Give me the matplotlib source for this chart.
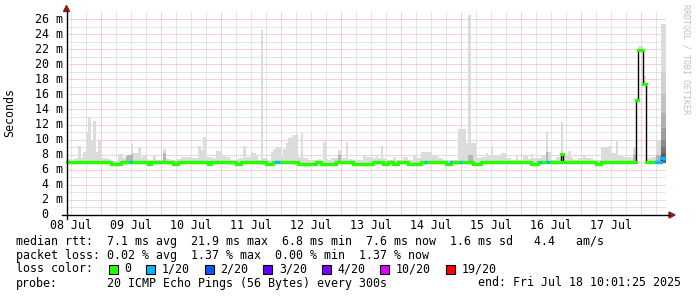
import numpy as np
import matplotlib
matplotlib.use('Agg')
import matplotlib.pyplot as plt
from matplotlib.patches import Polygon, Rectangle
from matplotlib.lines import Line2D
from matplotlib.transforms import blended_transform_factory

plt.rcParams['font.family'] = 'DejaVu Sans Mono'
plt.rcParams['font.size'] = 8.4

# hourly bins, hours counted from 08 Jul 00:00 (first bin 08 Jul 10:00)
first_hour = 10
last_hour = 250

# top of the smoke (slowest ping) in ms, one row per day
ping_max = [
    7.5, 7.4, 7.2, 7.4, 7.5, 9.1, 7.5, 8.4, 11.0, 13.0, 10.0, 12.5, 8.4, 9.8,  # 08 Jul
    7.5, 7.5, 7.5, 7.4, 7.2, 7.2, 7.2, 8.1, 8.1, 7.6, 7.7, 7.8, 9.4, 8.2, 8.2, 9.0, 7.7, 7.8, 7.5, 7.3, 7.3, 7.8, 7.3, 7.3,  # 09 Jul
    7.3, 8.7, 7.5, 7.4, 7.3, 7.3, 7.4, 7.4, 7.7, 7.7, 7.7, 7.7, 7.6, 7.6, 7.5, 9.15, 8.6, 10.4, 7.7, 7.7, 7.6, 7.6, 8.5, 8.5,  # 10 Jul
    8.0, 8.0, 7.7, 7.7, 7.3, 7.3, 7.3, 7.5, 7.5, 9.15, 7.7, 7.7, 8.4, 8.2, 7.9, 7.3, 24.6, 7.6, 7.5, 7.3, 8.4, 8.8, 9.0, 9.0,  # 11 Jul
    8.0, 8.75, 9.5, 10.2, 10.4, 10.6, 10.7, 7.7, 10.9, 7.5, 7.5, 7.3, 7.3, 7.3, 7.3, 7.4, 7.3, 9.7, 7.4, 7.3, 7.5, 7.5, 7.5, 8.6,  # 12 Jul
    7.5, 7.5, 9.7, 7.4, 7.4, 7.3, 7.3, 7.3, 7.3, 8.0, 7.7, 7.7, 7.7, 7.5, 7.8, 7.5, 9.15, 7.5, 7.3, 7.3, 7.3, 7.7, 7.3, 7.3,  # 13 Jul
    7.3, 7.7, 7.7, 7.3, 7.3, 7.8, 7.5, 7.5, 8.4, 8.4, 8.4, 8.3, 8.0, 8.0, 8.0, 7.5, 7.5, 7.3, 7.3, 7.3, 7.3, 7.3, 7.3, 11.4,  # 14 Jul
    11.4, 11.4, 9.5, 26.5, 9.5, 9.5, 7.7, 7.6, 7.7, 7.7, 8.2, 8.0, 9.15, 8.0, 8.0, 8.0, 8.2, 8.2, 7.5, 7.5, 7.3, 7.3, 8.0, 7.3,  # 15 Jul
    7.3, 8.0, 8.0, 7.4, 8.1, 7.5, 7.5, 7.5, 7.8, 7.8, 11.0, 8.4, 7.3, 7.3, 7.7, 7.7, 12.3, 7.8, 7.8, 8.5, 7.7, 7.3, 7.3, 7.5,  # 16 Jul
    7.5, 8.0, 7.5, 7.5, 7.5, 7.3, 7.3, 7.3, 9.0, 9.0, 9.0, 9.15, 8.2, 8.2, 10.0, 7.8, 7.8, 7.7, 7.7, 7.7, 7.6, 9.0, 15.5, 22.4,  # 17 Jul
    22.4, 18.5, 7.5, 7.5, 7.7, 7.7, 9.9, 9.9, 25.3, 25.3,  # 18 Jul
]

# median rtt in ms
median = [
    7.0, 7.0, 7.0, 7.0, 7.0, 7.0, 7.0, 7.0, 7.0, 7.0, 7.0, 7.0, 7.0, 7.0,  # 08 Jul
    7.0, 7.0, 7.0, 7.0, 6.8, 6.8, 6.8, 6.8, 7.0, 7.0, 7.0, 7.0, 7.0, 7.0, 7.0, 7.0, 7.0, 7.0, 7.0, 6.8, 7.0, 7.0, 7.0, 7.0,  # 09 Jul
    7.0, 7.0, 7.0, 7.0, 7.0, 6.8, 6.8, 7.0, 7.0, 7.0, 7.0, 7.0, 7.0, 7.0, 7.0, 7.0, 7.0, 7.0, 7.0, 6.8, 7.0, 7.0, 7.0, 7.0,  # 10 Jul
    7.0, 7.0, 7.0, 7.0, 7.0, 7.0, 6.8, 6.8, 7.0, 7.0, 7.0, 7.0, 7.0, 7.0, 7.0, 7.0, 7.0, 7.0, 6.8, 6.8, 6.8, 7.0, 7.0, 7.0,  # 11 Jul
    7.0, 7.0, 7.0, 7.0, 7.0, 7.0, 7.0, 6.8, 6.8, 6.8, 6.8, 6.8, 6.8, 6.8, 7.0, 7.0, 6.8, 6.8, 6.8, 6.8, 6.8, 6.8, 7.0, 7.0,  # 12 Jul
    7.0, 7.0, 7.0, 7.0, 7.0, 6.8, 6.8, 6.8, 6.8, 6.8, 6.8, 6.8, 6.8, 7.0, 7.0, 7.0, 7.0, 6.8, 6.8, 7.0, 7.0, 6.8, 6.8, 7.0,  # 13 Jul
    7.0, 7.0, 7.0, 6.8, 6.8, 6.8, 6.8, 6.8, 7.0, 7.0, 7.0, 7.0, 7.0, 7.0, 7.0, 7.0, 7.0, 7.0, 6.8, 6.8, 7.0, 7.0, 7.0, 7.0,  # 14 Jul
    7.0, 7.0, 7.0, 7.0, 7.0, 6.8, 6.8, 6.8, 7.0, 7.0, 7.0, 7.0, 7.0, 7.0, 7.0, 7.0, 7.0, 7.0, 7.0, 7.0, 7.0, 7.0, 7.0, 7.0,  # 15 Jul
    7.0, 7.0, 7.0, 7.0, 6.8, 6.8, 6.8, 7.0, 7.0, 7.0, 7.0, 7.0, 7.0, 7.0, 7.0, 7.0, 8.1, 7.0, 7.0, 7.0, 7.0, 7.0, 7.0, 7.0,  # 16 Jul
    7.0, 7.0, 7.0, 7.0, 7.0, 7.0, 6.8, 6.8, 7.0, 7.0, 7.0, 7.0, 7.0, 7.0, 7.0, 7.0, 7.0, 7.0, 7.0, 7.0, 7.0, 7.0, 15.3, 21.9,  # 17 Jul
    21.9, 17.4, 7.0, 7.0, 7.0, 7.0, 7.0, 7.0, 7.6, 7.6,  # 18 Jul
]

# hours with lost pings (out of 20)
loss_hours = [36, 94, 95, 154, 164, 168, 200, 203, 246, 247, 248, 249]
loss_count = [1, 1, 1, 1, 1, 1, 1, 1, 1, 1, 1, 1]

# hours where the fastest ping sits well above the usual floor
high_hours = [238, 239, 240, 241]
high_min = [15.0, 21.6, 21.6, 17.1]

# darker smoke near the median
dark_hours = [34, 35, 36, 49, 119, 171, 172, 202, 208, 237, 246, 247]
dark_top = [7.8, 7.9, 8.1, 8.2, 8.0, 8.0, 7.9, 8.3, 8.2, 7.9, 7.9, 7.9]

# last two hours: dense smoke, darker towards the median
fade_hours = [248, 249]
fade_top = [19.0, 16.0, 13.5, 11.5, 10.0, 9.0, 8.2]
fade_shade = ['#d2d2d2', '#c2c2c2', '#b0b0b0', '#9e9e9e', '#8a8a8a', '#767676', '#606060']

smoke_floor = 6.85

loss_levels = [0, 1, 2, 3, 4, 10, 19]
loss_labels = ['0', '1/20', '2/20', '3/20', '4/20', '10/20', '19/20']
loss_colors = ['#26ff00', '#00b8ff', '#0059ff', '#5e00ff', '#7e00ff', '#dd00ff', '#ff0000']

day_labels = ['08 Jul', '09 Jul', '10 Jul', '11 Jul', '12 Jul',
              '13 Jul', '14 Jul', '15 Jul', '16 Jul', '17 Jul']

rtt_avg, rtt_max, rtt_min, rtt_now, rtt_sd, rtt_ams = 7.1, 21.9, 6.8, 7.6, 1.6, 4.4
loss_avg, loss_max, loss_min, loss_now = 0.02, 1.37, 0.00, 1.37
probe_text = '20 ICMP Echo Pings (56 Bytes) every 300s'
end_text = 'end: Fri Jul 18 10:01:25 2025'

W, H = 697, 297
PX_PER_MS = 7.538


def fx(x):
    return x / W


def fy(y):
    return 1 - y / H


fig = plt.figure(figsize=(W / 100, H / 100), dpi=100)
fig.patch.set_facecolor('white')
ax = fig.add_axes([fx(65.5), fy(215), 600 / W, 204 / H])
ax.set_xlim(first_hour, last_hour)
ax.set_ylim(0, 204 / PX_PER_MS)
for s in ax.spines.values():
    s.set_visible(False)

# grid
dot = (0, (1, 1))
for v in range(1, 27):
    ax.axhline(v, ls=dot, lw=0.72, color='#f2a6a6' if v % 2 == 0 else '#cccccc', zorder=0)
for h in range(12, last_hour, 6):
    ax.axvline(h, ls=dot, lw=0.72, color='#f2a6a6' if h % 24 == 0 else '#cccccc', zorder=0)

hours = np.arange(first_hour, last_hour)
ping_max = np.array(ping_max)
median = np.array(median)

# smoke
bottom = np.full(len(hours), smoke_floor)
for h, m in zip(high_hours, high_min):
    bottom[h - first_hour] = m
ax.bar(hours, ping_max - bottom, bottom=bottom, width=1, align='edge',
       color='#dcdcdc', linewidth=0, zorder=2)
dt = np.array(dark_top)
ax.bar(dark_hours, dt - smoke_floor, bottom=smoke_floor, width=1, align='edge',
       color='#b4b4b4', linewidth=0, zorder=3)
for top, shade in zip(fade_top, fade_shade):
    ax.bar(fade_hours, top - smoke_floor, bottom=smoke_floor, width=1, align='edge',
           color=shade, linewidth=0, zorder=3)

# median line: thin black steps, coloured by loss on top
ax.stairs(median, np.arange(first_hour, last_hour + 1), baseline=None,
          color='black', lw=1.0, zorder=4)
loss = np.zeros(len(hours), dtype=int)
for h, c in zip(loss_hours, loss_count):
    loss[h - first_hour] = c
seg_colors = [loss_colors[loss_levels.index(c)] for c in loss]
ax.hlines(median, hours, hours + 1, colors=seg_colors, lw=2.3, zorder=5,
          capstyle='projecting')

# x labels at noon
ax.set_xticks(np.arange(12, 240, 24), day_labels)
ax.set_yticks([])
ax.tick_params(axis='x', length=0, pad=3)

# y labels
trans = blended_transform_factory(fig.transFigure, ax.transData)
for v in range(0, 27, 2):
    lab = f'{v:2d} m' if v else ' 0'
    ax.text(fx(35), v, lab, transform=trans, ha='left', va='center', clip_on=False)

# axes lines and arrows
fig.add_artist(Line2D([fx(66.5), fx(66.5)], [fy(219), fy(11)], color='black', lw=1.0))
fig.add_artist(Line2D([fx(62), fx(669)], [fy(215), fy(215)], color='black', lw=1.0))
fig.add_artist(Polygon([(fx(66.5), fy(5.5)), (fx(63.5), fy(11.5)), (fx(69.5), fy(11.5))],
                       closed=True, color='#8b1a1a', transform=fig.transFigure))
fig.add_artist(Polygon([(fx(675), fy(215)), (fx(669), fy(212)), (fx(669), fy(218))],
                       closed=True, color='#8b1a1a', transform=fig.transFigure))

fig.text(fx(10), fy(113), 'Seconds', rotation=90, ha='center', va='center')
fig.text(fx(686), fy(4), 'RRDTOOL / TOBI OETIKER', rotation=270, ha='center', va='top',
         fontsize=6, color='#c0c0c0')

# legend
row1 = (f'median rtt:  {rtt_avg:.1f} ms avg  {rtt_max:.1f} ms max  {rtt_min:.1f} ms min  '
        f'{rtt_now:.1f} ms now  {rtt_sd:.1f} ms sd   {rtt_ams:.1f}   am/s')
row2 = (f'packet loss: {loss_avg:.2f} % avg  {loss_max:.2f} % max  '
        f'{loss_min:.2f} % min  {loss_now:.2f} % now')
fig.text(fx(16), fy(241), row1, va='center')
fig.text(fx(16), fy(255), row2, va='center')
fig.text(fx(16), fy(269), 'loss color:', va='center')
bx = 108.5
for lab, col in zip(loss_labels, loss_colors):
    fig.add_artist(Rectangle((fx(bx), fy(273.5)), 9 / W, 9 / H, facecolor=col,
                             edgecolor='black', lw=0.8, transform=fig.transFigure))
    tx = bx + 16
    fig.text(fx(tx), fy(269), lab, va='center')
    bx = tx + 7 * len(lab) + 14.5
fig.text(fx(16), fy(283), 'probe:', va='center')
fig.text(fx(107), fy(283), probe_text, va='center')
fig.text(fx(681), fy(283), end_text, va='center', ha='right')

fig.savefig('out.png', dpi=100)
